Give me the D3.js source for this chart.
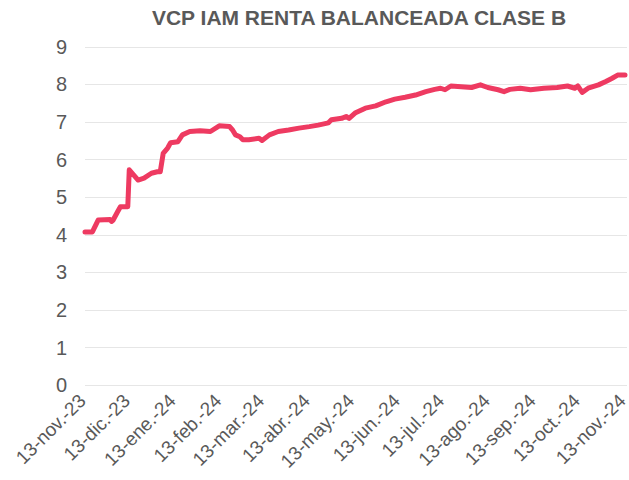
<!DOCTYPE html>
<html>
<head>
<meta charset="utf-8">
<script src="https://cdn.jsdelivr.net/npm/d3@7"></script>
<style>
	body { margin: 0; background: #fff; }
	.title { font-family: "Liberation Sans", Arial, sans-serif; font-weight: bold; font-size: 21px; fill: #595959; }
	.tick-label { font-family: "Liberation Sans", Arial, sans-serif; font-size: 20px; fill: #595959; }
	.tick-x { font-size: 19px; }
	.grid { stroke: #e6e6e6; stroke-width: 1; }
	.serie { fill: none; stroke: #ee3a61; stroke-width: 5; stroke-linejoin: round; stroke-linecap: round; }
</style>
</head>
<body>
<svg id="chart" width="629" height="480"></svg>
<script>
// valores
var fechas = ["2023-11-13", "2023-11-18", "2023-11-22", "2023-11-30", "2023-12-01", "2023-12-02", "2023-12-05",
	"2023-12-07", "2023-12-12", "2023-12-13", "2023-12-19", "2023-12-23", "2023-12-28", "2024-01-01", "2024-01-03",
	"2024-01-05", "2024-01-08", "2024-01-10", "2024-01-15", "2024-01-18", "2024-01-23", "2024-01-30", "2024-02-06",
	"2024-02-12", "2024-02-19", "2024-02-21", "2024-02-23", "2024-02-26", "2024-02-28", "2024-03-03", "2024-03-10",
	"2024-03-12", "2024-03-17", "2024-03-23", "2024-03-30", "2024-04-06", "2024-04-13", "2024-04-19", "2024-04-26",
	"2024-04-28", "2024-05-05", "2024-05-08", "2024-05-10", "2024-05-14", "2024-05-21", "2024-05-28", "2024-06-04",
	"2024-06-10", "2024-06-17", "2024-06-24", "2024-07-01", "2024-07-07", "2024-07-11", "2024-07-14", "2024-07-18",
	"2024-07-25", "2024-08-01", "2024-08-07", "2024-08-12", "2024-08-19", "2024-08-23", "2024-08-27", "2024-09-03",
	"2024-09-10", "2024-09-19", "2024-09-28", "2024-10-05", "2024-10-10", "2024-10-12", "2024-10-15", "2024-10-19",
	"2024-10-26", "2024-10-31", "2024-11-04", "2024-11-08", "2024-11-13"];
var valores = [4.07, 4.07, 4.39, 4.40, 4.35, 4.38, 4.60,
	4.74, 4.74, 5.72, 5.45, 5.50, 5.63, 5.67, 5.67,
	6.16, 6.30, 6.44, 6.47, 6.65, 6.74, 6.76, 6.74,
	6.89, 6.87, 6.78, 6.65, 6.60, 6.52, 6.52, 6.56,
	6.50, 6.65, 6.74, 6.78, 6.83, 6.87, 6.91, 6.97,
	7.05, 7.09, 7.14, 7.09, 7.23, 7.36, 7.42, 7.53,
	7.60, 7.65, 7.71, 7.80, 7.86, 7.89, 7.85, 7.95,
	7.93, 7.91, 7.98, 7.91, 7.85, 7.80, 7.86, 7.89,
	7.85, 7.89, 7.91, 7.95, 7.89, 7.95, 7.78, 7.89,
	7.98, 8.07, 8.15, 8.24, 8.24];
var etiquetasX = ["13-nov.-23", "13-dic.-23", "13-ene.-24", "13-feb.-24", "13-mar.-24", "13-abr.-24", "13-may.-24",
	"13-jun.-24", "13-jul.-24", "13-ago.-24", "13-sep.-24", "13-oct.-24", "13-nov.-24"];
var fechasEtiquetas = ["2023-11-13", "2023-12-13", "2024-01-13", "2024-02-13", "2024-03-13", "2024-04-13", "2024-05-13",
	"2024-06-13", "2024-07-13", "2024-08-13", "2024-09-13", "2024-10-13", "2024-11-13"];
var ticksY = [0, 1, 2, 3, 4, 5, 6, 7, 8, 9];
var titulo = "VCP IAM RENTA BALANCEADA CLASE B";

(function () {
	var svg, parse, x, y, datos;
	parse = d3.timeParse("%Y-%m-%d");
	svg = d3.select("#chart");

	datos = fechas.map(function (f, i) { return { fecha: parse(f), valor: valores[i] } });

	x = d3.scaleTime()
		.domain([parse(fechas[0]), parse(fechas[fechas.length - 1])])
		.range([85, 625]);
	y = d3.scaleLinear()
		.domain([0, 9])
		.range([385, 46.5]);

	drawGrid();
	drawAxisLabels();
	drawLine();
	drawTitle();

	function drawGrid() {
		svg.append("g").selectAll("line")
			.data(ticksY).enter().append("line")
			.attr("class", "grid")
			.attr("x1", 85)
			.attr("x2", 627)
			.attr("y1", function (d) { return Math.round(y(d)) + 0.5 })
			.attr("y2", function (d) { return Math.round(y(d)) + 0.5 })
	}
	function drawAxisLabels() {
		svg.append("g").selectAll("text")
			.data(ticksY).enter().append("text")
			.attr("class", "tick-label")
			.attr("x", 67)
			.attr("y", function (d) { return y(d) })
			.attr("dy", "0.36em")
			.attr("text-anchor", "end")
			.text(function (d) { return d })

		svg.append("g").selectAll("text")
			.data(etiquetasX).enter().append("text")
			.attr("class", "tick-label tick-x")
			.attr("text-anchor", "end")
			.attr("transform", function (d, i) {
				return "translate(" + (x(parse(fechasEtiquetas[i])) + 2) + ",402) rotate(-45)"
			})
			.text(function (d) { return d })
	}
	function drawLine() {
		var linea = d3.line()
			.x(function (d) { return x(d.fecha) })
			.y(function (d) { return y(d.valor) });
		svg.append("path")
			.datum(datos)
			.attr("class", "serie")
			.attr("d", linea)
	}
	function drawTitle() {
		svg.append("text")
			.attr("class", "title")
			.attr("x", 359)
			.attr("y", 25)
			.attr("text-anchor", "middle")
			.text(titulo)
	}
})();
</script>
</body>
</html>
